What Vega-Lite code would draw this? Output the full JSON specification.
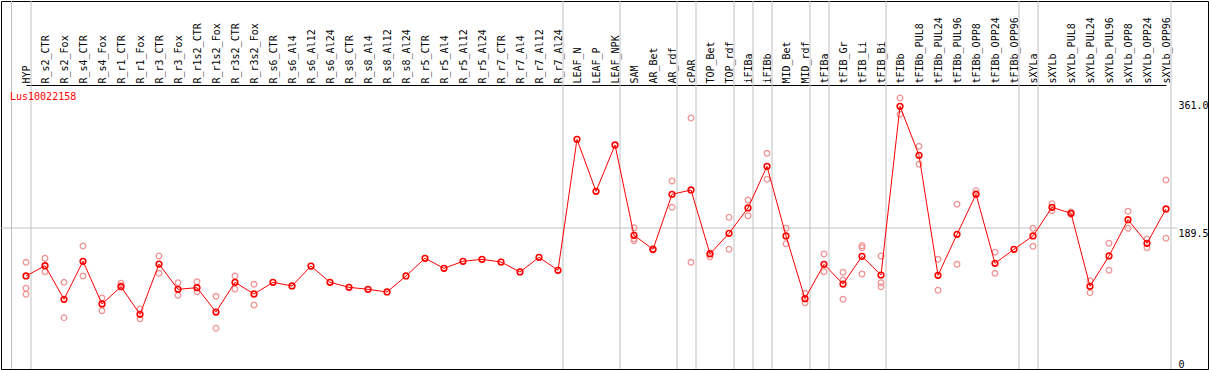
{
  "$schema": "https://vega.github.io/schema/vega-lite/v6.json",
  "width": 1207,
  "height": 368,
  "autosize": {"type": "none"},
  "padding": {"left": 1, "top": 1, "right": 1, "bottom": 1},
  "background": "white",
  "config": {
    "view": {"stroke": "black", "strokeWidth": 1},
    "font": "DejaVu Sans Mono"
  },
  "datasets": {
    "means": [
      {"cat": "HYP", "v": 125.0},
      {"cat": "R_s2_CTR", "v": 138.8},
      {"cat": "R_s2_Fox", "v": 93.7},
      {"cat": "R_s4_CTR", "v": 144.8},
      {"cat": "R_s4_Fox", "v": 87.4},
      {"cat": "R_r1_CTR", "v": 110.6},
      {"cat": "R_r1_Fox", "v": 73.5},
      {"cat": "R_r3_CTR", "v": 141.1},
      {"cat": "R_r3_Fox", "v": 107.1},
      {"cat": "R_r1s2_CTR", "v": 109.3},
      {"cat": "R_r1s2_Fox", "v": 76.6},
      {"cat": "R_r3s2_CTR", "v": 116.5},
      {"cat": "R_r3s2_Fox", "v": 100.8},
      {"cat": "R_s6_CTR", "v": 116.5},
      {"cat": "R_s6_Al4", "v": 111.6},
      {"cat": "R_s6_Al12", "v": 138.4},
      {"cat": "R_s6_Al24", "v": 116.5},
      {"cat": "R_s8_CTR", "v": 109.8},
      {"cat": "R_s8_Al4", "v": 107.1},
      {"cat": "R_s8_Al12", "v": 103.5},
      {"cat": "R_s8_Al24", "v": 125.0},
      {"cat": "R_r5_CTR", "v": 148.8},
      {"cat": "R_r5_Al4", "v": 135.3},
      {"cat": "R_r5_Al12", "v": 144.8},
      {"cat": "R_r5_Al24", "v": 147.4},
      {"cat": "R_r7_CTR", "v": 143.8},
      {"cat": "R_r7_Al4", "v": 130.4},
      {"cat": "R_r7_Al12", "v": 150.1},
      {"cat": "R_r7_Al24", "v": 132.7},
      {"cat": "LEAF_N", "v": 308.7},
      {"cat": "LEAF_P", "v": 238.8},
      {"cat": "LEAF_NPK", "v": 301.1},
      {"cat": "SAM", "v": 179.7},
      {"cat": "AR_Bet", "v": 160.9},
      {"cat": "AR_rdf", "v": 234.8},
      {"cat": "cPAR", "v": 240.6},
      {"cat": "TOP_Bet", "v": 154.6},
      {"cat": "TOP_rdf", "v": 182.4},
      {"cat": "iFIBa", "v": 216.4},
      {"cat": "iFIBb", "v": 272.4},
      {"cat": "MID_Bet", "v": 178.8},
      {"cat": "MID_rdf", "v": 94.5},
      {"cat": "tFIBa", "v": 140.7},
      {"cat": "tFIB_Gr", "v": 114.2},
      {"cat": "tFIB_Li", "v": 151.5},
      {"cat": "tFIB_Bi", "v": 126.3},
      {"cat": "tFIBb", "v": 353.1},
      {"cat": "tFIBb_PUL8", "v": 287.2},
      {"cat": "tFIBb_PUL24", "v": 125.9},
      {"cat": "tFIBb_PUL96", "v": 181.0},
      {"cat": "tFIBb_OPP8", "v": 234.8},
      {"cat": "tFIBb_OPP24", "v": 142.1},
      {"cat": "tFIBb_OPP96", "v": 160.9},
      {"cat": "sXYLa", "v": 178.8},
      {"cat": "sXYLb", "v": 217.3},
      {"cat": "sXYLb_PUL8", "v": 209.3},
      {"cat": "sXYLb_PUL24", "v": 111.2},
      {"cat": "sXYLb_PUL96", "v": 151.9},
      {"cat": "sXYLb_OPP8", "v": 200.7},
      {"cat": "sXYLb_OPP24", "v": 169.0},
      {"cat": "sXYLb_OPP96", "v": 215.1}
    ],
    "reps": [
      {"cat": "HYP", "v": 143.4}, {"cat": "HYP", "v": 108.5}, {"cat": "HYP", "v": 100.4},
      {"cat": "R_s2_CTR", "v": 148.8}, {"cat": "R_s2_CTR", "v": 130.8},
      {"cat": "R_s2_Fox", "v": 116.5}, {"cat": "R_s2_Fox", "v": 69.0},
      {"cat": "R_s4_CTR", "v": 165.3}, {"cat": "R_s4_CTR", "v": 125.0},
      {"cat": "R_s4_Fox", "v": 95.4}, {"cat": "R_s4_Fox", "v": 78.4},
      {"cat": "R_r1_CTR", "v": 115.2}, {"cat": "R_r1_CTR", "v": 112.0},
      {"cat": "R_r1_Fox", "v": 80.6}, {"cat": "R_r1_Fox", "v": 67.6},
      {"cat": "R_r3_CTR", "v": 151.9}, {"cat": "R_r3_CTR", "v": 128.6},
      {"cat": "R_r3_Fox", "v": 116.0}, {"cat": "R_r3_Fox", "v": 99.1},
      {"cat": "R_r1s2_CTR", "v": 117.3}, {"cat": "R_r1s2_CTR", "v": 103.9},
      {"cat": "R_r1s2_Fox", "v": 97.7}, {"cat": "R_r1s2_Fox", "v": 54.7},
      {"cat": "R_r3s2_CTR", "v": 125.0}, {"cat": "R_r3s2_CTR", "v": 107.5},
      {"cat": "R_r3s2_Fox", "v": 113.8}, {"cat": "R_r3s2_Fox", "v": 86.0},
      {"cat": "SAM", "v": 189.9}, {"cat": "SAM", "v": 172.4}, {"cat": "SAM", "v": 175.0},
      {"cat": "AR_Bet", "v": 161.5}, {"cat": "AR_Bet", "v": 160.0},
      {"cat": "AR_rdf", "v": 252.7}, {"cat": "AR_rdf", "v": 217.3},
      {"cat": "cPAR", "v": 337.4}, {"cat": "cPAR", "v": 143.4},
      {"cat": "TOP_Bet", "v": 150.9}, {"cat": "TOP_Bet", "v": 156.0},
      {"cat": "TOP_rdf", "v": 203.9}, {"cat": "TOP_rdf", "v": 160.9},
      {"cat": "iFIBa", "v": 227.2}, {"cat": "iFIBa", "v": 206.0},
      {"cat": "iFIBb", "v": 289.9}, {"cat": "iFIBb", "v": 255.0},
      {"cat": "MID_Bet", "v": 189.1}, {"cat": "MID_Bet", "v": 168.4},
      {"cat": "MID_rdf", "v": 101.7}, {"cat": "MID_rdf", "v": 89.1},
      {"cat": "tFIBa", "v": 154.6}, {"cat": "tFIBa", "v": 130.8},
      {"cat": "tFIB_Gr", "v": 130.0}, {"cat": "tFIB_Gr", "v": 119.6}, {"cat": "tFIB_Gr", "v": 93.7},
      {"cat": "tFIB_Li", "v": 165.7}, {"cat": "tFIB_Li", "v": 163.0}, {"cat": "tFIB_Li", "v": 127.7},
      {"cat": "tFIB_Bi", "v": 151.9}, {"cat": "tFIB_Bi", "v": 116.0}, {"cat": "tFIB_Bi", "v": 110.6},
      {"cat": "tFIBb", "v": 364.2}, {"cat": "tFIBb", "v": 342.3},
      {"cat": "tFIBb_PUL8", "v": 299.3}, {"cat": "tFIBb_PUL8", "v": 275.1},
      {"cat": "tFIBb_PUL24", "v": 147.4}, {"cat": "tFIBb_PUL24", "v": 105.8},
      {"cat": "tFIBb_PUL96", "v": 221.4}, {"cat": "tFIBb_PUL96", "v": 140.7},
      {"cat": "tFIBb_OPP8", "v": 239.7}, {"cat": "tFIBb_OPP8", "v": 236.0},
      {"cat": "tFIBb_OPP24", "v": 156.9}, {"cat": "tFIBb_OPP24", "v": 128.6},
      {"cat": "sXYLa", "v": 189.1}, {"cat": "sXYLa", "v": 164.9},
      {"cat": "sXYLb", "v": 222.2}, {"cat": "sXYLb", "v": 212.8},
      {"cat": "sXYLb_PUL8", "v": 211.0}, {"cat": "sXYLb_PUL8", "v": 208.0},
      {"cat": "sXYLb_PUL24", "v": 118.7}, {"cat": "sXYLb_PUL24", "v": 102.6},
      {"cat": "sXYLb_PUL96", "v": 169.0}, {"cat": "sXYLb_PUL96", "v": 132.7},
      {"cat": "sXYLb_OPP8", "v": 212.0}, {"cat": "sXYLb_OPP8", "v": 189.1},
      {"cat": "sXYLb_OPP24", "v": 174.7}, {"cat": "sXYLb_OPP24", "v": 163.0},
      {"cat": "sXYLb_OPP96", "v": 254.0}, {"cat": "sXYLb_OPP96", "v": 175.7}
    ],
    "seps": [
      {"cat": "HYP"}, {"cat": "R_r7_Al24"}, {"cat": "LEAF_NPK"}, {"cat": "AR_rdf"},
      {"cat": "cPAR"}, {"cat": "TOP_rdf"}, {"cat": "iFIBa"}, {"cat": "iFIBb"},
      {"cat": "MID_rdf"}, {"cat": "tFIBa"}, {"cat": "tFIB_Bi"}, {"cat": "tFIBb_OPP96"},
      {"cat": "sXYLa"}, {"cat": "sXYLb_OPP96"}
    ],
    "label": [{"name": "Lus10022158"}]
  },
  "layer": [
    {
      "data": {"name": "means"},
      "mark": {"type": "point", "shape": "circle", "filled": false, "color": "#ff0000", "size": 32, "strokeWidth": 1.6, "opacity": 0},
      "encoding": {
        "x": {
          "field": "cat",
          "type": "nominal",
          "scale": {
            "type": "point",
            "padding": 0,
            "range": [25, 1165],
            "domain": ["HYP","R_s2_CTR","R_s2_Fox","R_s4_CTR","R_s4_Fox","R_r1_CTR","R_r1_Fox","R_r3_CTR","R_r3_Fox","R_r1s2_CTR","R_r1s2_Fox","R_r3s2_CTR","R_r3s2_Fox","R_s6_CTR","R_s6_Al4","R_s6_Al12","R_s6_Al24","R_s8_CTR","R_s8_Al4","R_s8_Al12","R_s8_Al24","R_r5_CTR","R_r5_Al4","R_r5_Al12","R_r5_Al24","R_r7_CTR","R_r7_Al4","R_r7_Al12","R_r7_Al24","LEAF_N","LEAF_P","LEAF_NPK","SAM","AR_Bet","AR_rdf","cPAR","TOP_Bet","TOP_rdf","iFIBa","iFIBb","MID_Bet","MID_rdf","tFIBa","tFIB_Gr","tFIB_Li","tFIB_Bi","tFIBb","tFIBb_PUL8","tFIBb_PUL24","tFIBb_PUL96","tFIBb_OPP8","tFIBb_OPP24","tFIBb_OPP96","sXYLa","sXYLb","sXYLb_PUL8","sXYLb_PUL24","sXYLb_PUL96","sXYLb_OPP8","sXYLb_OPP24","sXYLb_OPP96"]
          },
          "axis": {
            "orient": "top",
            "offset": -84,
            "title": null,
            "labelAngle": 270,
            "labelAlign": "left",
            "labelBaseline": "middle",
            "labelFont": "DejaVu Sans Mono",
            "labelFontSize": 10,
            "labelColor": "black",
            "labelPadding": 2,
            "labelOverlap": false,
            "labelBound": false,
            "ticks": false,
            "grid": false,
            "domain": true,
            "domainColor": "black",
            "domainWidth": 1
          }
        },
        "y": {
          "field": "v",
          "type": "quantitative",
          "scale": {"domain": [0, 494.6], "nice": false, "zero": true},
          "axis": {
            "orient": "right",
            "offset": -38,
            "title": null,
            "values": [0, 189.5, 361],
            "labelExpr": "datum.value == 0 ? '0' : format(datum.value, '.1f')",
            "labelFont": "DejaVu Sans Mono",
            "labelFontSize": 10,
            "labelColor": "black",
            "labelAlign": "left",
            "labelBaseline": {"condition": {"test": "datum.value == 0", "value": "bottom"}, "value": "top"},
            "labelPadding": 8,
            "labelOverlap": false,
            "labelBound": false,
            "ticks": false,
            "grid": false,
            "domain": false
          }
        }
      }
    },
    {
      "data": {"name": "seps"},
      "mark": {"type": "rule", "color": "#c0c0c0", "strokeWidth": 1, "xOffset": 5},
      "encoding": {
        "x": {"field": "cat", "type": "nominal"},
        "y": {"datum": 0, "type": "quantitative"},
        "y2": {"datum": 494.6}
      }
    },
    {
      "data": {"name": "label"},
      "mark": {"type": "rule", "color": "#c0c0c0", "strokeWidth": 1, "xOffset": -14.5},
      "encoding": {
        "x": {"datum": "HYP", "type": "nominal"},
        "y": {"datum": 0, "type": "quantitative"},
        "y2": {"datum": 494.6}
      }
    },
    {
      "data": {"name": "label"},
      "mark": {"type": "rule", "color": "#c0c0c0", "strokeWidth": 1, "xOffset": -25, "x2Offset": 11},
      "encoding": {
        "x": {"datum": "HYP", "type": "nominal"},
        "x2": {"datum": "sXYLb_OPP96"},
        "y": {"datum": 189.5, "type": "quantitative"}
      }
    },
    {
      "data": {"name": "reps"},
      "mark": {"type": "point", "shape": "circle", "filled": false, "color": "#f09494", "size": 32, "strokeWidth": 1.3, "opacity": 1},
      "encoding": {
        "x": {"field": "cat", "type": "nominal"},
        "y": {"field": "v", "type": "quantitative"}
      }
    },
    {
      "data": {"name": "means"},
      "mark": {"type": "line", "color": "#ff0000", "strokeWidth": 1},
      "encoding": {
        "x": {"field": "cat", "type": "nominal"},
        "y": {"field": "v", "type": "quantitative"},
        "order": {"value": null}
      }
    },
    {
      "data": {"name": "means"},
      "mark": {"type": "point", "shape": "circle", "filled": false, "color": "#ff0000", "size": 32, "strokeWidth": 1.6, "opacity": 1},
      "encoding": {
        "x": {"field": "cat", "type": "nominal"},
        "y": {"field": "v", "type": "quantitative"}
      }
    },
    {
      "data": {"name": "label"},
      "mark": {"type": "text", "font": "DejaVu Sans Mono", "fontSize": 10, "color": "#ff0000", "align": "left", "baseline": "middle", "xOffset": -16},
      "encoding": {
        "x": {"datum": "HYP", "type": "nominal"},
        "y": {"datum": 365.6, "type": "quantitative"},
        "text": {"field": "name"}
      }
    }
  ]
}
